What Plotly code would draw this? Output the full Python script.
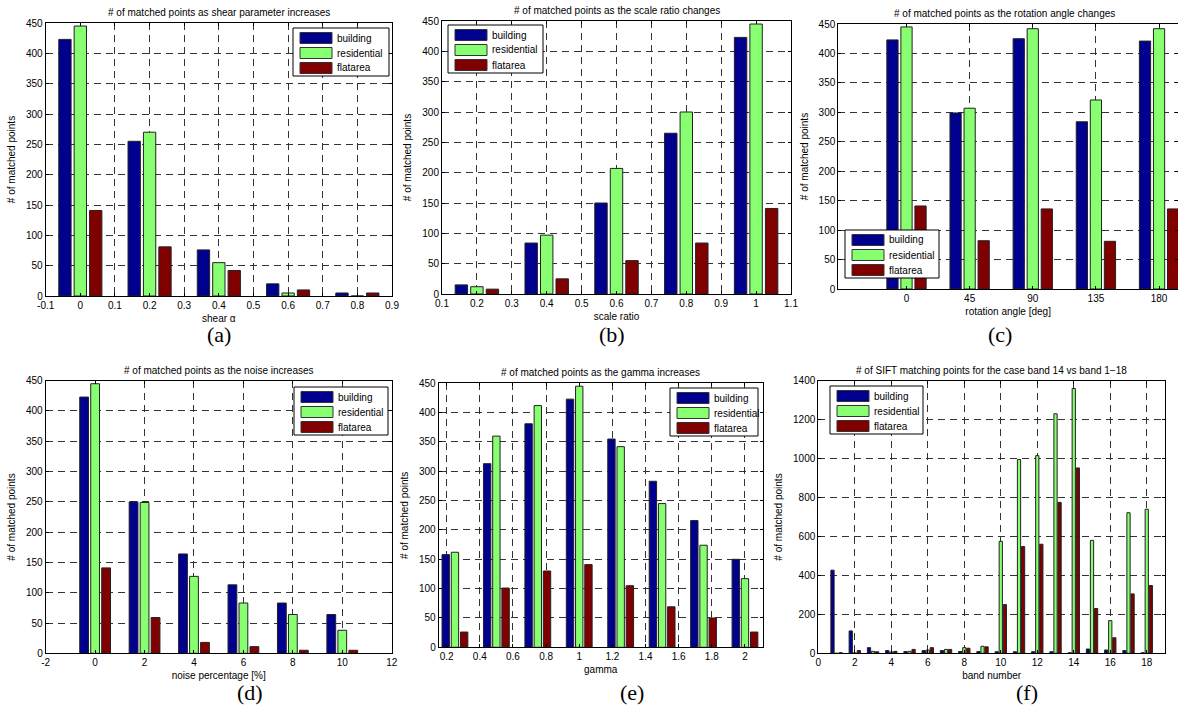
import plotly.graph_objects as go

# ---------------- data ----------------
series_names = ["building", "residential", "flatarea"]

shear = [0, 0.2, 0.4, 0.6, 0.8]
a_building = [423, 255, 76, 20, 5]
a_residential = [445, 270, 55, 5, 0]
a_flatarea = [141, 81, 42, 10, 5]

scale_ratio = [0.2, 0.4, 0.6, 0.8, 1.0]
b_building = [15, 84, 150, 265, 423]
b_residential = [12, 97, 207, 300, 445]
b_flatarea = [8, 25, 55, 84, 141]

rotation_labels = ["0", "45", "90", "135", "180"]
c_building = [423, 299, 425, 284, 421]
c_residential = [445, 307, 442, 321, 442]
c_flatarea = [141, 82, 136, 81, 136]

noise = [0, 2, 4, 6, 8, 10]
d_building = [423, 250, 164, 113, 83, 64]
d_residential = [445, 249, 127, 83, 64, 38]
d_flatarea = [141, 59, 18, 11, 5, 5]

gamma = [0.25, 0.5, 0.75, 1.0, 1.25, 1.5, 1.75, 2.0]
e_building = [158, 313, 381, 423, 355, 283, 216, 150]
e_residential = [162, 360, 412, 445, 342, 245, 174, 117]
e_flatarea = [26, 101, 130, 141, 105, 69, 50, 26]

bands = list(range(1, 19))
f_building = [427, 115, 29, 14, 9, 14, 14, 9, 9, 8, 8, 8, 8, 3, 22, 17, 14, 3]
f_residential = [0, 2, 10, 7, 10, 17, 20, 29, 36, 575, 995, 1015, 1230, 1360, 580, 168, 722, 740]
f_flatarea = [3, 14, 8, 10, 20, 29, 20, 26, 33, 250, 548, 560, 775, 952, 230, 80, 305, 348]

titles = [
    "# of matched points as shear parameter increases",
    "# of matched points as the scale ratio changes",
    "# of matched points as the rotation angle changes",
    "# of matched points as the noise increases",
    "# of matched points as the gamma increases",
    "# of SIFT matching points for the case band 14 vs band 1\u221218",
]
xtitles = ["shear \u03b1", "scale ratio", "rotation angle [deg]",
           "noise percentage [%]", "gamma", "band number"]
panel_labels = ["(a)", "(b)", "(c)", "(d)", "(e)", "(f)"]

# ---------------- style ----------------
W, H = 1178, 715
colors = ["#00008F", "#88FF70", "#800000"]
FONT = "Liberation Sans, Arial, Helvetica, sans-serif"
SERIF = "Liberation Serif, Times New Roman, serif"
FS = 10


def px(x):
    return x / W


def py(y):
    return 1 - y / H


# axes boxes in pixels: left, right, top, bottom
boxes = [
    (45.7, 392.0, 23.0, 296.0),
    (442.0, 791.0, 21.0, 294.0),
    (838.3, 1178.0, 24.0, 289.0),
    (45.7, 391.7, 380.7, 653.3),
    (438.7, 762.7, 383.3, 647.3),
    (818.3, 1165.0, 380.7, 653.3),
]

xranges = [[-0.1, 0.9], [0.1, 1.1], [-1.08, 4.3], [-2, 12], [0.152, 2.107], [0, 19]]
xticks = [
    dict(tickvals=[-0.1 + 0.1 * i for i in range(11)],
         ticktext=["-0.1", "0", "0.1", "0.2", "0.3", "0.4", "0.5", "0.6", "0.7", "0.8", "0.9"]),
    dict(tickvals=[0.1 + 0.1 * i for i in range(11)],
         ticktext=["0.1", "0.2", "0.3", "0.4", "0.5", "0.6", "0.7", "0.8", "0.9", "1", "1.1"]),
    dict(tickvals=list(range(len(rotation_labels))), ticktext=rotation_labels),
    dict(tickvals=list(range(-2, 13, 2)), ticktext=[str(v) for v in range(-2, 13, 2)]),
    dict(tickvals=[0.2 * i for i in range(1, 11)],
         ticktext=["0.2", "0.4", "0.6", "0.8", "1", "1.2", "1.4", "1.6", "1.8", "2"]),
    dict(tickvals=list(range(0, 19, 2)), ticktext=[str(v) for v in range(0, 19, 2)]),
]
yranges = [[0, 450]] * 5 + [[0, 1400]]
ydtick = [50] * 5 + [200]

datasets = [
    (shear, [a_building, a_residential, a_flatarea]),
    (scale_ratio, [b_building, b_residential, b_flatarea]),
    (list(range(len(rotation_labels))), [c_building, c_residential, c_flatarea]),
    (noise, [d_building, d_residential, d_flatarea]),
    (gamma, [e_building, e_residential, e_flatarea]),
    (bands, [f_building, f_residential, f_flatarea]),
]

fig = go.Figure()
layout = dict(
    width=W, height=H,
    margin=dict(l=0, r=0, t=0, b=0),
    paper_bgcolor="white", plot_bgcolor="white",
    barmode="group", bargap=0.333, bargroupgap=0.2,
    showlegend=False,
    font=dict(family=FONT, size=FS, color="black"),
)

annotations = []
shapes = []

for i, (xs, ys) in enumerate(datasets):
    n = "" if i == 0 else str(i + 1)
    xa, ya = "x" + n, "y" + n
    for s, (name, vals) in enumerate(zip(series_names, ys)):
        fig.add_trace(go.Bar(
            x=xs, y=vals, name=name, xaxis=xa, yaxis=ya,
            marker=dict(color=colors[s], line=dict(color="#222222", width=1)),
            offsetgroup=str(s), legendgroup=name, showlegend=False,
        ))
    l, r, t, b = boxes[i]
    grid = dict(showgrid=True, gridcolor="#333333", gridwidth=1, griddash="7px,5px")
    layout["xaxis" + n] = dict(
        domain=[px(l), px(r)], anchor=ya, range=xranges[i], tickmode="array",
        **xticks[i], ticks="inside", ticklen=3, tickcolor="black",
        showline=True, linecolor="black", linewidth=1, mirror="ticks",
        zeroline=False, **grid,
        title=dict(text=xtitles[i], font=dict(size=FS), standoff=4),
        tickfont=dict(size=FS), automargin=False,
        ticklabeloverflow="allow",
    )
    layout["yaxis" + n] = dict(
        domain=[py(b), py(t)], anchor=xa, range=yranges[i], dtick=ydtick[i],
        tick0=0, ticks="inside", ticklen=3, tickcolor="black",
        showline=True, linecolor="black", linewidth=1, mirror="ticks",
        zeroline=False, **grid,
        title=dict(text="# of matched points", font=dict(size=FS), standoff=8),
        tickfont=dict(size=FS), automargin=False,
    )
    # chart title
    annotations.append(dict(
        text=titles[i], xref="paper", yref="paper",
        x=px((l + min(r, 1170)) / 2), y=py(t - 3), xanchor="center", yanchor="bottom",
        showarrow=False, font=dict(size=FS, family=FONT),
    ))

# panel labels (a)-(f)
label_pos = [(219, 334), (612, 334), (1000, 334), (250, 692), (632, 692), (1027, 692)]
for lab, (x, y) in zip(panel_labels, label_pos):
    annotations.append(dict(
        text=lab, xref="paper", yref="paper", x=px(x), y=py(y),
        xanchor="center", yanchor="middle", showarrow=False,
        font=dict(size=22, family=SERIF, color="black"),
    ))

# legends drawn as boxes (top-left x, top-left y, width) in pixels
legend_boxes = [(293, 28, 96), (448, 25, 95), (845, 230, 94),
                (294, 387, 94), (670, 388, 88), (830, 386, 93)]
for (x0, y0, w) in legend_boxes:
    shapes.append(dict(type="rect", xref="paper", yref="paper",
                       x0=px(x0), x1=px(x0 + w), y0=py(y0 + 48), y1=py(y0),
                       fillcolor="white", line=dict(color="black", width=1), layer="above"))
    for s, name in enumerate(series_names):
        cy = y0 + 10 + 15 * s
        shapes.append(dict(type="rect", xref="paper", yref="paper",
                           x0=px(x0 + 7), x1=px(x0 + 39), y0=py(cy + 5.5), y1=py(cy - 5.5),
                           fillcolor=colors[s], line=dict(color="#333333", width=1), layer="above"))
        annotations.append(dict(
            text=name, xref="paper", yref="paper", x=px(x0 + 42), y=py(cy),
            xanchor="left", yanchor="middle", showarrow=False,
            font=dict(size=FS, family=FONT),
        ))

layout["annotations"] = annotations
layout["shapes"] = shapes
fig.update_layout(**layout)
fig.write_html(
    "out.html",
    config={"displayModeBar": False},
    post_script="document.body.style.margin='0px';document.body.style.overflow='hidden';",
)
